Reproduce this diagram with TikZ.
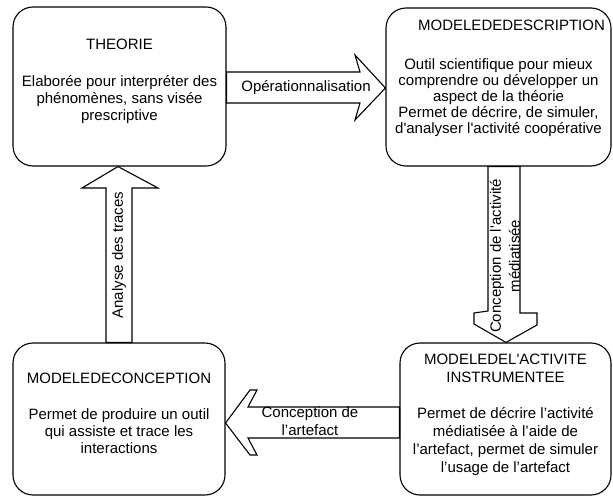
\documentclass[tikz,border=0pt]{standalone}
\usepackage{fontspec}
\setmainfont{Liberation Sans}[Ligatures=TeXOff]
\begin{document}
\begin{tikzpicture}[x=1pt,y=-1pt,
  box/.style={draw, line width=1.1pt, rounded corners=20pt, align=center, inner sep=0pt,
    font=\fontsize{15}{17}\selectfont},
  barrow/.style={draw, line width=1.1pt, fill=white, line join=miter},
  lbl/.style={align=center, inner sep=0pt, font=\fontsize{15}{17}\selectfont}]
\useasboundingbox (0,0) rectangle (613,497);
% boxes
\node[box, minimum width=213pt, minimum height=159pt] (b1) at (119.5,86.5)
  {THEORIE\\[20pt]Elaborée pour interpréter des\\phénomènes, sans visée\\prescriptive\\[-3pt]};
\node[box, minimum width=225pt, minimum height=158pt,
  font=\fontsize{15}{16}\selectfont] (b2) at (498.5,87)
  {\hspace*{26pt}MODELEDEDESCRIPTION\\[23pt]Outil scientifique pour mieux\\comprendre ou développer un\\aspect de la théorie\\Permet de décrire, de simuler,\\d'analyser l'activité coopérative\\[4pt]};
\node[box, minimum width=212pt, minimum height=152pt] (b3) at (119,419)
  {MODELEDECONCEPTION\\[19pt]Permet de produire un outil\\qui assiste et trace les\\interactions\\[-6pt]};
\node[box, minimum width=211pt, minimum height=152pt,
  font=\fontsize{15}{18}\selectfont] (b4) at (505.5,419)
  {MODELEDEL'ACTIVITE\\INSTRUMENTEE\\[18pt]Permet de décrire l’activité\\médiatisée à l’aide de\\l’artefact, permet de simuler\\l’usage de l’artefact\\[-6pt]};
% block arrows
\draw[barrow] (b1.east |- 0,72) -- (360,72) -- (355,55) -- (b2.west |- 0,88)
  -- (355,120) -- (360,103) -- (b1.east |- 0,103) -- cycle;
\draw[barrow] (488,0 |- b2.south) -- (488,311) -- (474,313) -- (474,324)
  -- (b4.north -| 506,0) -- (537,325) -- (537,313) -- (520,313)
  -- (520,0 |- b2.south) -- cycle;
\draw[barrow] (b4.west |- 0,407) -- (248,407) -- (257,390) -- (250,390)
  -- (b3.east |- 0,423) -- (250,455) -- (257,455) -- (248,438)
  -- (b4.west |- 0,438) -- cycle;
\draw[barrow] (106,0 |- b3.north) -- (106,188) -- (82,188) -- (b1.south -| 118,0)
  -- (158,188) -- (132,188) -- (132,0 |- b3.north) -- cycle;
% arrow labels
\node[lbl] (l1) at (306,88) {Opérationnalisation};
\node[lbl, font=\fontsize{15}{18}\selectfont] (l2) at (310,421) {Conception de\\l’artefact};
\node[lbl, rotate=90, font=\fontsize{15}{19}\selectfont] (l3) at (505,256) {Conception de l'activité\\médiatisée};
\node[lbl, rotate=90] (l4) at (119,255) {Analyse des traces};
\end{tikzpicture}
\end{document}
